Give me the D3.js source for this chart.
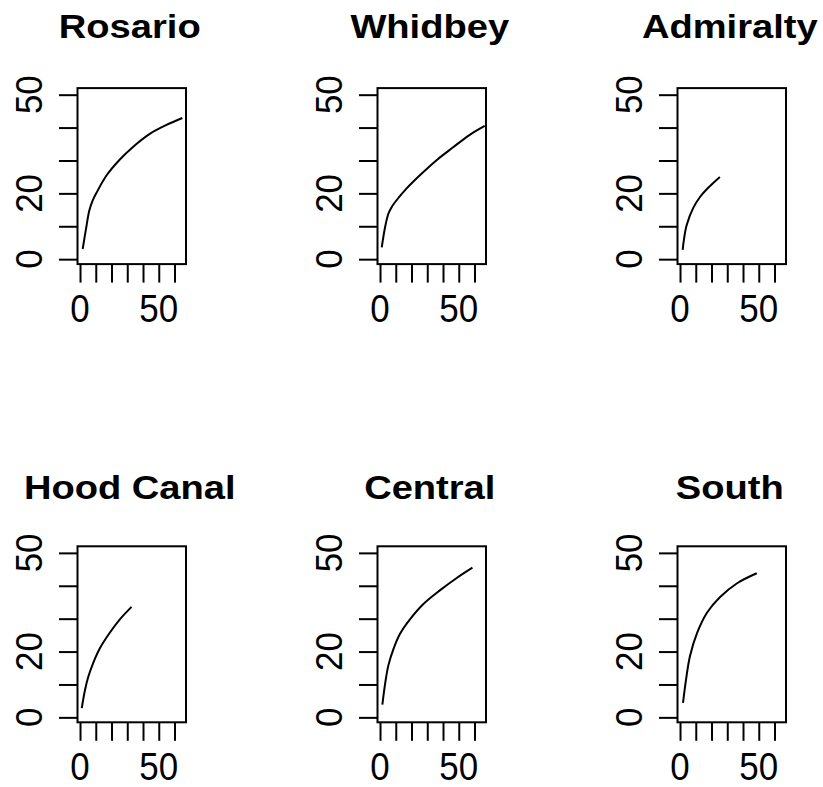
<!DOCTYPE html>
<html>
<head>
<meta charset="utf-8">
<script src="https://cdn.jsdelivr.net/npm/d3@7"></script>
<style>
  body { margin: 0; background: #fff; }
  text { font-family: Arial, "Liberation Sans", sans-serif; fill: #000; }
</style>
</head>
<body>
<svg id="chart" width="823" height="787"></svg>
<script>
// Growth curves (length vs. age) for six basins
const regions = ["Rosario", "Whidbey", "Admiralty", "Hood Canal", "Central", "South"];

const rosarioAge = [1.7, 3.8, 5.9, 8.0, 10.6, 16.9, 25.3, 33.8, 44.3, 54.9, 65.0];
const rosarioLen = [3.1, 9.2, 14.8, 17.8, 20.3, 25.5, 30.3, 34.2, 38.1, 40.8, 42.9];

const whidbeyAge = [1.1, 3.2, 5.3, 7.0, 9.5, 16.9, 25.3, 35.9, 46.4, 57.0, 66.5];
const whidbeyLen = [3.6, 9.7, 13.8, 15.5, 17.3, 21.5, 25.5, 30.1, 34.0, 37.8, 40.5];

const admiraltyAge = [1.7, 2.5, 4.2, 8.4, 12.7, 17.9, 25.3];
const admiraltyLen = [2.8, 6.0, 10.3, 15.6, 18.9, 21.7, 25.0];

const hoodCanalAge = [1.1, 3.2, 5.3, 8.4, 12.7, 19.0, 25.3, 32.7];
const hoodCanalLen = [2.8, 8.4, 12.4, 16.6, 21.1, 25.8, 29.8, 33.6];

const centralAge = [1.5, 3.2, 5.3, 8.4, 12.7, 19.0, 27.4, 38.0, 48.5, 58.7];
const centralLen = [3.9, 10.1, 15.8, 20.6, 25.4, 29.8, 34.4, 38.6, 42.3, 45.5];

const southAge = [1.9, 3.8, 6.3, 10.8, 17.1, 25.3, 36.0, 48.7];
const southLen = [4.4, 11.4, 18.6, 25.6, 31.8, 36.5, 40.7, 43.8];

const ages = [rosarioAge, whidbeyAge, admiraltyAge, hoodCanalAge, centralAge, southAge];
const lengths = [rosarioLen, whidbeyLen, admiraltyLen, hoodCanalLen, centralLen, southLen];

const xTicks = [0, 10, 20, 30, 40, 50, 60];
const xLabels = [0, 50];
const yTicks = [0, 10, 20, 30, 40, 50];
const yLabels = [0, 20, 50];

const xDomain = [-1.6, 67.3];
const yDomain = [-1.5, 52];

const svg = d3.select("#chart");
svg.append("rect").attr("width", 823).attr("height", 787).attr("fill", "#fff");

const panelW = 108.5, panelH = 176;
const colLeft = [77.5, 377.5, 677.5];
const rowTop = [88.1, 546.3];
const titleBase = [37.5, 498.5];
const tickLen = 18.5;
const lineW = 2;

regions.forEach((name, i) => {
  const col = i % 3, row = Math.floor(i / 3);
  const left = colLeft[col], top = rowTop[row];

  const x = d3.scaleLinear().domain(xDomain).range([left, left + panelW]);
  const y = d3.scaleLinear().domain(yDomain).range([top + panelH, top]);

  const g = svg.append("g");

  // plot frame
  g.append("rect")
    .attr("x", left).attr("y", top)
    .attr("width", panelW).attr("height", panelH)
    .attr("fill", "none").attr("stroke", "#000").attr("stroke-width", lineW);

  // bottom axis ticks
  const xAxis = d3.axisBottom(x).tickValues(xTicks).tickSize(tickLen).tickFormat("");
  const gx = g.append("g").attr("transform", `translate(0,${top + panelH})`).call(xAxis);
  gx.select(".domain").remove();
  gx.selectAll(".tick line").attr("stroke", "#000").attr("stroke-width", lineW);

  // left axis ticks
  const yAxis = d3.axisLeft(y).tickValues(yTicks).tickSize(tickLen).tickFormat("");
  const gy = g.append("g").attr("transform", `translate(${left},0)`).call(yAxis);
  gy.select(".domain").remove();
  gy.selectAll(".tick line").attr("stroke", "#000").attr("stroke-width", lineW);

  // x tick labels
  g.selectAll(".xl").data(xLabels).enter().append("text")
    .attr("transform", d => `translate(${x(d)},${top + panelH + 57.5}) scale(0.97,1.07)`)
    .attr("text-anchor", "middle").attr("font-size", 36)
    .text(d => d);

  // y tick labels, drawn parallel to the axis
  g.selectAll(".yl").data(yLabels).enter().append("text")
    .attr("transform", d => `translate(${left - 36},${y(d)}) rotate(-90) scale(0.97,1.05)`)
    .attr("text-anchor", "middle").attr("font-size", 36)
    .text(d => d);

  // title
  g.append("text")
    .attr("transform", `translate(${left + panelW / 2 - 2},${titleBase[row]}) scale(1.155,1)`)
    .attr("text-anchor", "middle").attr("font-size", 33).attr("font-weight", "bold")
    .text(name);

  // growth curve
  const pts = ages[i].map((a, k) => [a, lengths[i][k]]);
  g.append("path")
    .datum(pts)
    .attr("d", d3.line().x(d => x(d[0])).y(d => y(d[1])).curve(d3.curveCatmullRom.alpha(0.5)))
    .attr("fill", "none").attr("stroke", "#000").attr("stroke-width", 2);
});
</script>
</body>
</html>
